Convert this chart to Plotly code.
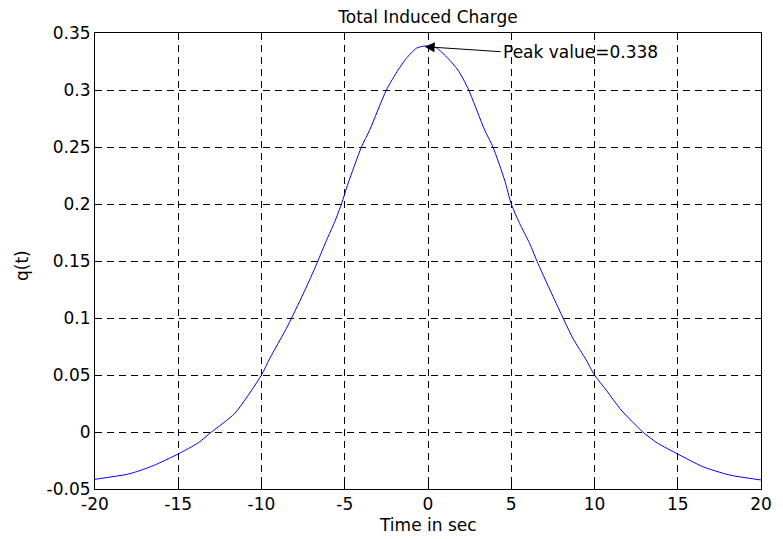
import plotly.graph_objects as go

# Data
time_s = [-20, -18.1, -17.5, -16.5, -15, -13.8, -13, -11.6, -10, -9.5, -8.5, -7.5,
          -6.8, -6.1, -5.6, -5.2, -4.8, -4.0, -3.5, -2.5, -1.8, -1.3, -0.7, -0.2,
          0.5, 1.2, 1.8, 2.4, 3.4, 3.9, 4.6, 5.0, 5.5, 6.1, 6.6, 7.6, 8.7, 9.5,
          10, 10.7, 11.6, 12.9, 13.8, 15, 16.5, 18.1, 20]
charge = [-0.0415, -0.0372, -0.0348, -0.0295, -0.0193, -0.0095, 0.0, 0.0164, 0.05,
          0.0647, 0.091, 0.121, 0.1436, 0.168, 0.1845, 0.2, 0.218, 0.25, 0.265,
          0.3, 0.3175, 0.3278, 0.3366, 0.3386, 0.337, 0.3278, 0.3175, 0.3015,
          0.265, 0.25, 0.221, 0.2, 0.183, 0.1655, 0.148, 0.116, 0.0822, 0.0632,
          0.05, 0.0368, 0.0193, 0.0, -0.0099, -0.0193, -0.0304, -0.0377, -0.0421]

x_ticks = [-20, -15, -10, -5, 0, 5, 10, 15, 20]
y_ticks = [-0.05, 0, 0.05, 0.1, 0.15, 0.2, 0.25, 0.3, 0.35]
y_tick_labels = ["-0.05", "0", "0.05", "0.1", "0.15", "0.2", "0.25", "0.3", "0.35"]

peak_t = -0.2
peak_value = 0.338

FONT = "DejaVu Sans"
FS = 17

fig = go.Figure()
fig.add_trace(go.Scatter(x=time_s, y=charge, mode="lines",
                         line=dict(color="#0000FF", width=1, shape="spline",
                                   smoothing=0.6),
                         showlegend=False))

axis_common = dict(
    showline=True, linecolor="black", linewidth=1, mirror="ticks",
    ticks="inside", ticklen=5, tickcolor="black",
    showgrid=True, gridcolor="black", gridwidth=1, griddash="7px,5px",
    zeroline=False, tickfont=dict(family=FONT, size=FS, color="black"),
)

fig.update_xaxes(range=[-20, 20], tickvals=x_ticks,
                 ticktext=[str(v) for v in x_ticks], **axis_common)
fig.update_yaxes(range=[-0.05, 0.35], tickvals=y_ticks, ticktext=y_tick_labels,
                 **axis_common)

fig.add_annotation(x=peak_t, y=peak_value, xref="x", yref="y",
                   text="Peak value=0.338", showarrow=True,
                   ax=76, ay=5, xanchor="left", yanchor="middle",
                   arrowhead=2, arrowsize=2, arrowwidth=1, arrowcolor="black",
                   font=dict(family=FONT, size=FS, color="black"))

fig.add_annotation(text="Time in sec", xref="paper", yref="paper", x=0.5, y=0,
                   yshift=-36, xanchor="center", yanchor="middle", showarrow=False,
                   font=dict(family=FONT, size=FS, color="black"))
fig.add_annotation(text="q(t)", xref="paper", yref="paper", x=0, y=0.5,
                   xshift=-73, yshift=-5, textangle=-90, xanchor="center",
                   yanchor="middle", showarrow=False,
                   font=dict(family=FONT, size=FS, color="black"))

fig.update_layout(
    width=783, height=539,
    margin=dict(l=95, r=11, t=33, b=50),
    paper_bgcolor="white", plot_bgcolor="white",
    title=dict(text="Total Induced Charge", x=0.5, xref="paper", y=1, yref="paper",
               yanchor="bottom", pad=dict(b=10),
               font=dict(family=FONT, size=FS, color="black")),
)

fig.write_html(
    "out.html",
    config={"displayModeBar": False},
    post_script="document.body.style.margin='0';document.body.style.overflow='hidden';",
)
